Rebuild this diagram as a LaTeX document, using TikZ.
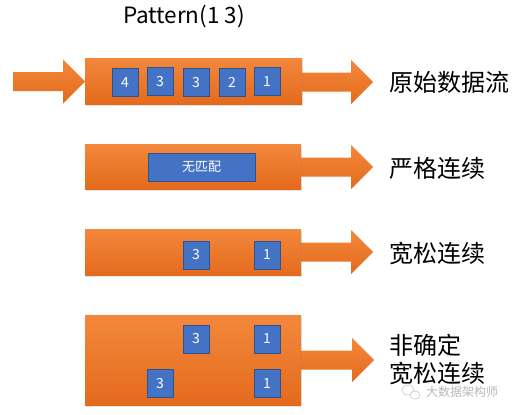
\documentclass[tikz,border=0pt]{standalone}
\usepackage{fontspec}
\setmainfont{Noto Sans CJK SC}
\usetikzlibrary{shadows}
\definecolor{otop}{RGB}{243,136,60}
\definecolor{obot}{RGB}{228,106,28}
\definecolor{sqfill}{RGB}{68,114,196}
\definecolor{sqdraw}{RGB}{47,82,143}
\tikzset{
  bar/.style={draw=none, top color=otop, bottom color=obot, inner sep=0pt,
    drop shadow={opacity=0.22, shadow xshift=0.5pt, shadow yshift=-2pt}},
  arrowfill/.style={top color=otop, bottom color=obot},
  sq/.style={fill=sqfill, draw=sqdraw, line width=0.8pt, minimum width=26pt,
    minimum height=28pt, inner sep=0pt, text=white, font=\fontsize{14}{14}\selectfont},
  label/.style={anchor=west, inner sep=0pt, align=left, font=\fontsize{24}{28}\selectfont},
}
\newcommand\fatarrow[3]{%
  \path[arrowfill] (#1,#3-9.5) -- (#2-22,#3-9.5) -- (#2-22,#3-22) -- (#2,#3)
    -- (#2-22,#3+22) -- (#2-22,#3+9.5) -- (#1,#3+9.5) -- cycle;}
\begin{document}
\begin{tikzpicture}[x=1pt,y=-1pt]
\fill[white] (0,0) rectangle (517,415);
\useasboundingbox (0,0) rectangle (517,415);

% title
\node[font=\fontsize{22.5}{25}\selectfont] (pat) at (184,17) {Pattern(1 3)};

% arrows
\fatarrow{13}{85}{81.5}
\fatarrow{300}{373}{82}
\fatarrow{300}{373}{167}
\fatarrow{300}{373}{252}
\fatarrow{300}{374}{360}

% bars
\node[bar, minimum width=217pt, minimum height=46pt] (b1) at (193.5,81) {};
\node[bar, minimum width=216pt, minimum height=45pt] (b2) at (193,166.5) {};
\node[bar, minimum width=216pt, minimum height=46pt] (b3) at (193,252) {};
\node[bar, minimum width=216pt, minimum height=90pt] (b4) at (193,360) {};

% row 1
\node[sq] (s11) at (125,82.5) {4};
\node[sq] (s12) at (160,81.5) {3};
\node[sq] (s13) at (196,82.5) {3};
\node[sq] (s14) at (232,82.5) {2};
\node[sq] (s15) at (267,81.5) {1};

% row 2
\node[sq, minimum width=107pt, font=\fontsize{13}{13}\selectfont] (nm) at (201.5,167) {无匹配};

% row 3
\node[sq] (s31) at (196,255) {3};
\node[sq] (s32) at (267,255) {1};

% row 4
\node[sq] (s41) at (196,339) {3};
\node[sq] (s42) at (267,339) {1};
\node[sq] (s43) at (160,383.5) {3};
\node[sq] (s44) at (267,383.5) {1};

% labels
\node[label] (l1) at (389,82) {原始数据流};
\node[label] (l2) at (389,168) {严格连续};
\node[label] (l3) at (389,253) {宽松连续};
\node[label] (l4) at (389,359) {非确定\\宽松连续};

% watermark
\draw[gray!45, line width=0.6pt] (408,390) ellipse (6pt and 5pt);
\draw[gray!45, line width=0.6pt, fill=white] (415,395) ellipse (5pt and 4pt);
\node[anchor=west, inner sep=0pt, text=gray!55, font=\fontsize{12}{12}\selectfont] (wm) at (426,392) {大数据架构师};
\end{tikzpicture}
\end{document}
